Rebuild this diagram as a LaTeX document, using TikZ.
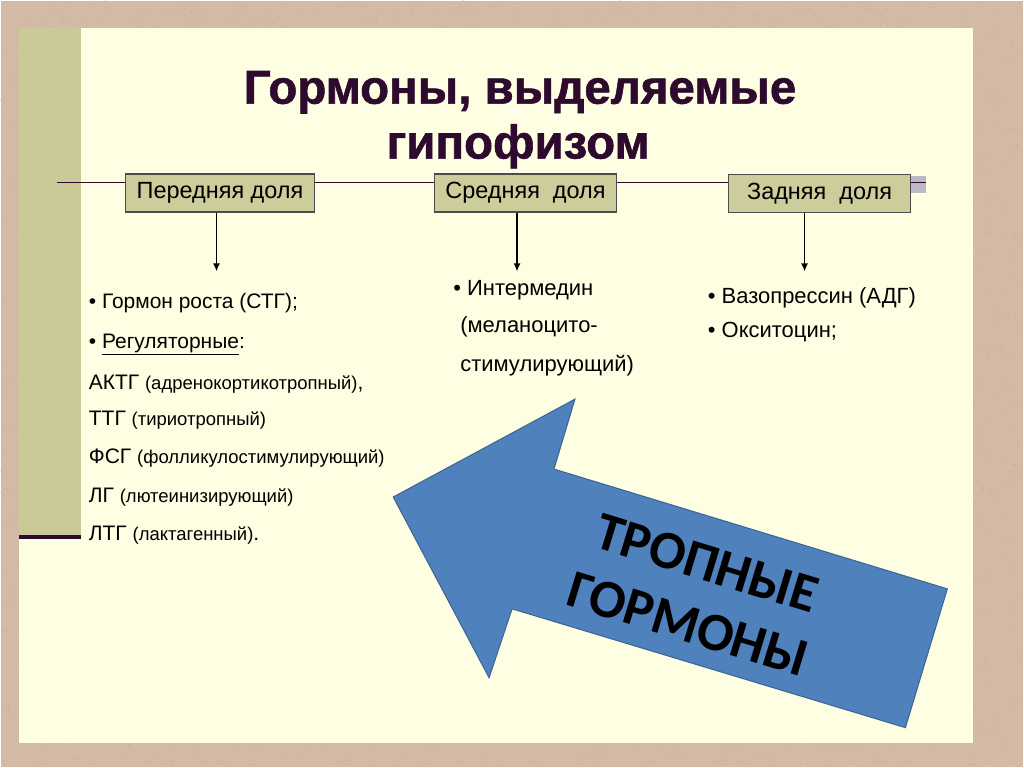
\documentclass[tikz,border=0pt]{standalone}
\usepackage{fontspec}
\setmainfont{Liberation Sans}
\newfontfamily\carlito{Carlito}
\newfontfamily\titlefont{Liberation Sans}[BoldFeatures={FakeBold=1.2}]
\usetikzlibrary{arrows.meta}
\definecolor{bgtan}{HTML}{D3BAA5}
\definecolor{bgdark}{HTML}{BDA08A}
\definecolor{bglight}{HTML}{E6D6C8}
\definecolor{panel}{HTML}{FEFEE3}
\definecolor{olive}{HTML}{C9CA98}
\definecolor{boxfill}{HTML}{CDCC9B}
\definecolor{plum}{HTML}{2E0B2E}
\definecolor{arrowblue}{HTML}{4F81BD}
\definecolor{arrowedge}{HTML}{3B6496}
\definecolor{graytab}{HTML}{BABAC6}
\newcommand{\fsz}[2]{\fontsize{#1}{#2}\selectfont}
\begin{document}
\begin{tikzpicture}[x=1pt,y=-1pt,
  lobe/.style={draw=black!70, line width=1.2pt, fill=boxfill, minimum height=38pt, inner sep=0pt, font=\fsz{23.5}{27}},
  txt/.style={anchor=base west, inner sep=0pt, font=\fsz{21}{25}},
  txtb/.style={anchor=base west, inner sep=0pt, font=\fsz{22}{26}},
  conn/.style={line width=1.3pt, -{Latex[length=8pt,width=7pt]}},
  bar/.style={plum, line width=1.5pt},
  ttl/.style={anchor=base, inner sep=0pt, text=plum, font=\titlefont\bfseries\fsz{47.5}{54}}]
% background texture and panel
\fill[bgtan] (0,0) rectangle (1024,767);
\pgfmathsetseed{7}
\foreach \i in {1,...,2600} {
  \fill[bgdark, opacity=0.4] ({1024*rnd},{767*rnd}) circle (0.9pt);
  \fill[bglight, opacity=0.45] ({1024*rnd},{767*rnd}) circle (0.8pt);
}
\fill[panel] (18,27) rectangle (974,743);
\fill[olive] (18,27) rectangle (80,535);
\fill[plum] (18,535) rectangle (80,539);
\useasboundingbox (0,0) rectangle (1024,767);
% title
\node[ttl] (t1) at (520,103) {Гормоны, выделяемые};
\node[ttl] (t2) at (518,158) {гипофизом};
% gray tab
\fill[graytab] (911,175) rectangle (927,193);
% boxes
\node[lobe, minimum width=189pt] (b1) at (219.5,192.5) {Передняя доля};
\node[lobe, minimum width=183pt] (b2) at (525.5,192.5) {Средняя\ \ доля};
\node[lobe, minimum width=182pt] (b3) at (820,193) {Задняя\ \ доля};
\coordinate (h0) at (56,182);
\coordinate (h4) at (927,182);
\draw[bar] (h0) -- (h0 -| b1.west);
\draw[bar] (h0 -| b1.east) -- (h0 -| b2.west);
\draw[bar] (h0 -| b2.east) -- (h0 -| b3.west);
\draw[bar] (h0 -| b3.east) -- (h4);
% arrows down
\coordinate (a1) at (216,271);
\coordinate (a2) at (517,271);
\coordinate (a3) at (805,271);
\draw[conn] (a1 |- b1.south) -- (a1);
\draw[conn] (a2 |- b2.south) -- (a2);
\draw[conn] (a3 |- b3.south) -- (a3);
% left column
\node[txt] (l1) at (88,308) {• Гормон роста (СТГ);};
\node[txt] (l2) at (88,348) {• \underline{Регуляторные}:};
\node[txt] (l3) at (88,389) {АКТГ {\fsz{18.5}{20}(адренокортикотропный)},};
\node[txt] (l4) at (88,425) {ТТГ {\fsz{18.5}{20}(тириотропный)}};
\node[txt] (l5) at (88,463) {ФСГ {\fsz{18.5}{20}(фолликулостимулирующий)}};
\node[txt] (l6) at (88,502) {ЛГ {\fsz{18.5}{20}(лютеинизирующий)}};
\node[txt] (l7) at (88,541) {ЛТГ {\fsz{18.5}{20}(лактагенный)}.};
% middle column
\node[txtb] (m1) at (453,295) {• Интермедин};
\node[txtb] (m2) at (460,332) {(меланоцито-};
\node[txtb] (m3) at (460,371) {стимулирующий)};
% right column
\node[txtb] (r1) at (708,303) {• Вазопрессин (АДГ)};
\node[txtb] (r2) at (708,337) {• Окситоцин;};
% big arrow
\draw[fill=arrowblue, draw=arrowedge, line width=1pt, line join=miter]
  (393,497) -- (575,399) -- (554,469) -- (948,589) -- (906,728) -- (512,609) -- (489,678) -- cycle;
\node[rotate=-17, align=center, inner sep=0pt, font=\carlito\bfseries\fsz{54}{64}] (tr) at (698,594) {ТРОПНЫЕ\\ГОРМОНЫ};
\end{tikzpicture}
\end{document}
